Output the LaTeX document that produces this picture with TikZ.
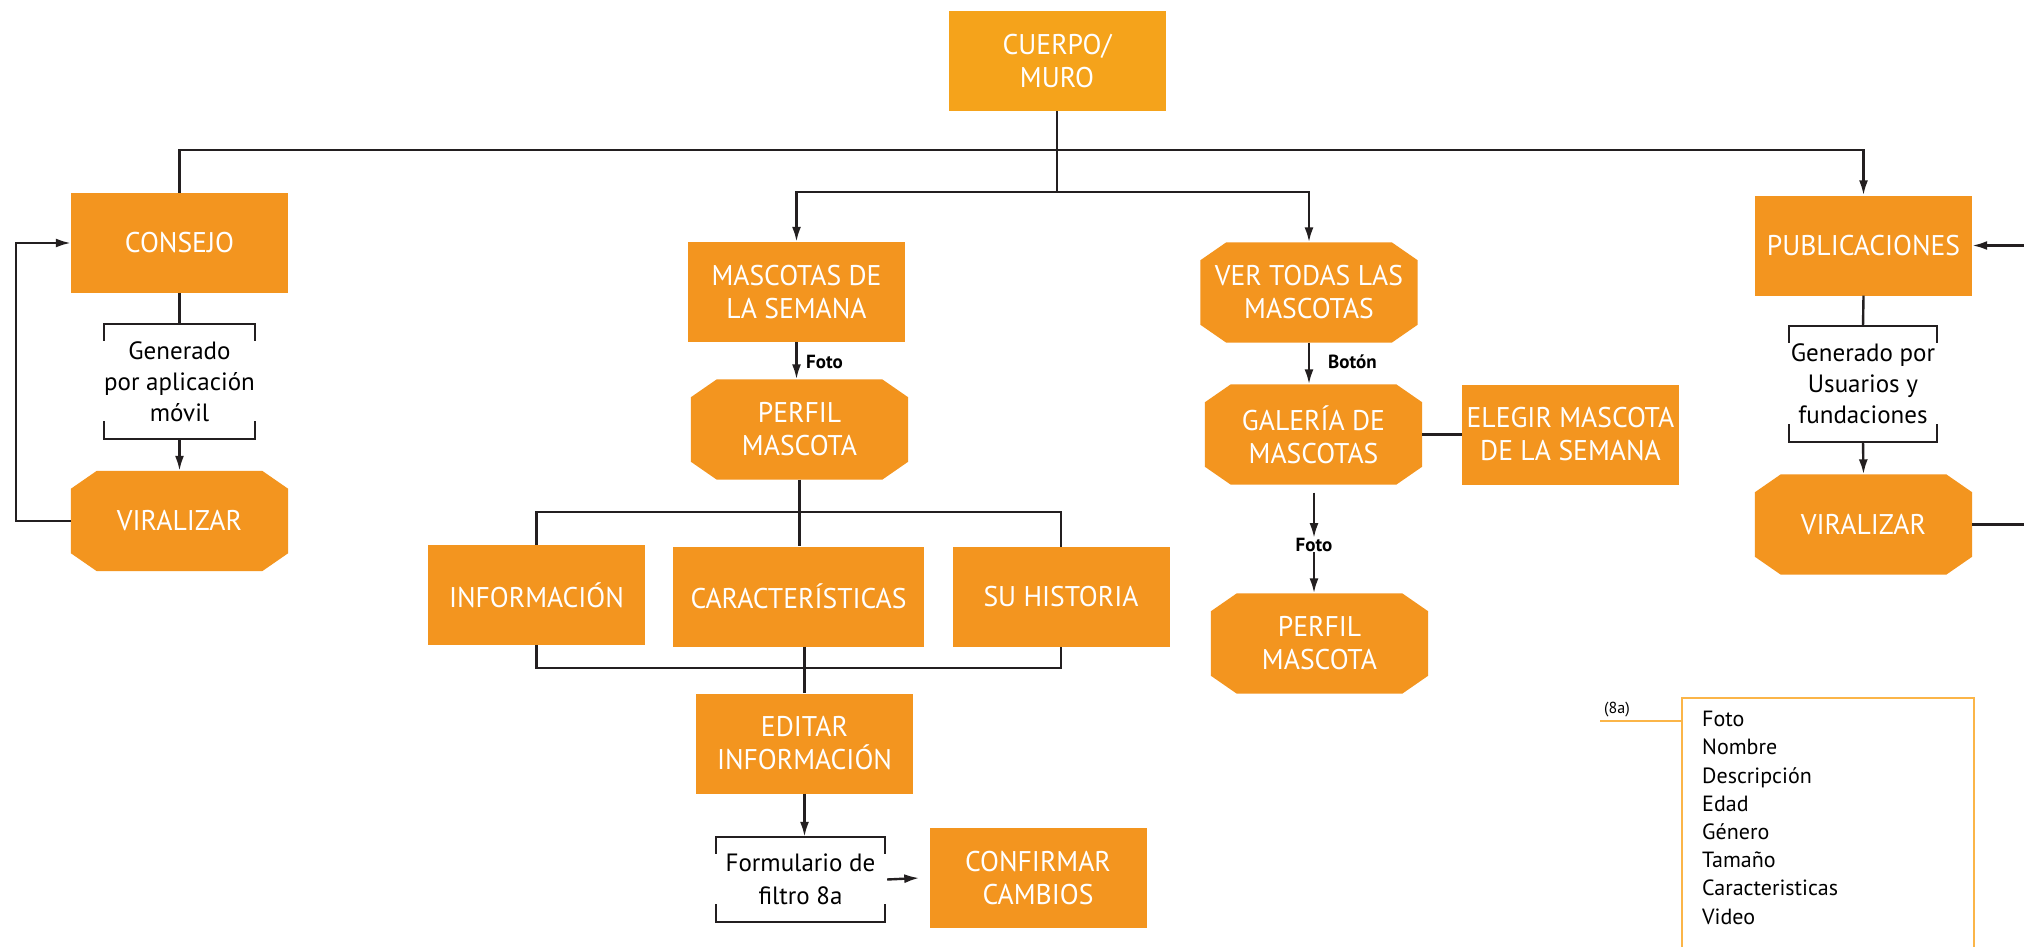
\documentclass[tikz,border=0pt]{standalone}
\usepackage{fontspec}
\setmainfont{PT Sans}
\newfontfamily\condfont{PT Sans}[FakeStretch=0.97]
\usetikzlibrary{arrows.meta,backgrounds}

\definecolor{boxorange}{HTML}{F3951F}
\definecolor{toporange}{HTML}{F5A31B}
\definecolor{frameorange}{HTML}{FBB548}
\definecolor{linegray}{HTML}{231F20}

\tikzset{
  box/.style={rectangle, fill=boxorange, text=white, minimum width=217pt,
    minimum height=100pt, inner sep=0pt, align=center,
    font=\condfont\fontsize{28.5}{33}\selectfont},
  octo/.style={box, fill=none},
  note/.style={rectangle, inner sep=0pt, align=center, text=black,
    font=\fontsize{25}{31}\selectfont},
  conn/.style={draw=linegray, line width=2.4pt},
  arr/.style={conn, -{Latex[length=15pt,width=9pt]}},
  tag/.style={inner sep=0pt, font=\bfseries\fontsize{19}{22}\selectfont},
}

% octagon fill behind a node of style octo
\newcommand\octfill[1]{%
  \fill[boxorange] ([xshift=26pt]#1.north west) -- ([xshift=-26pt]#1.north east)
    -- ([yshift=-18pt]#1.north east) -- ([yshift=18pt]#1.south east)
    -- ([xshift=-26pt]#1.south east) -- ([xshift=26pt]#1.south west)
    -- ([yshift=18pt]#1.south west) -- ([yshift=-18pt]#1.north west) -- cycle;}

% open bracket marks above and below a note
\newcommand\bracketmark[1]{%
  \draw[conn] ([yshift=-17pt]#1.north west) -- (#1.north west)
    -- (#1.north east) -- ([yshift=-17pt]#1.north east);
  \draw[conn] ([yshift=18pt]#1.south west) -- (#1.south west)
    -- (#1.south east) -- ([yshift=18pt]#1.south east);}

\begin{document}
\begin{tikzpicture}[x=1pt, y=-1pt]
\useasboundingbox (0,0) rectangle (2024,947);
\clip (0,0) rectangle (2024,947);

% main boxes
\node[box, fill=toporange] (cuerpo) at (1057,61) {CUERPO/\\MURO};
\node[box] (consejo) at (179.5,243) {CONSEJO};
\node[octo] (viral1) at (179.5,521) {VIRALIZAR};
\node[box] (masc) at (796.5,292) {MASCOTAS DE\\LA SEMANA};
\node[octo] (perfil1) at (799.5,429.5) {PERFIL\\MASCOTA};
\node[octo] (vertodas) at (1309,292.5) {VER TODAS LAS\\MASCOTAS};
\node[octo] (galeria) at (1313.5,434.5) {GALERÍA DE\\MASCOTAS};
\node[box] (elegir) at (1570.5,434.5) {ELEGIR MASCOTA\\DE LA SEMANA};
\node[octo] (perfil2) at (1319.5,643.5) {PERFIL\\MASCOTA};
\node[box] (public) at (1863.5,245.5) {PUBLICACIONES};
\node[octo] (viral2) at (1863.5,524.5) {VIRALIZAR};
\node[box] (info) at (536.5,595) {INFORMACIÓN};
\node[box, minimum width=251pt] (carac) at (798.5,596.5) {CARACTERÍSTICAS};
\node[box] (hist) at (1061,597) {SU HISTORIA};
\node[box] (editar) at (804.5,743.5) {EDITAR\\INFORMACIÓN};
\node[box] (confirmar) at (1038,878) {CONFIRMAR\\CAMBIOS};

% bracketed notes
\node[note, minimum width=147pt, minimum height=115pt] (cnote) at (179.5,381.5)
  {Generado\\por aplicación\\móvil};
\node[note, minimum width=148pt, minimum height=116pt] (pnote) at (1863,384)
  {Generado por\\Usuarios y\\fundaciones};
\node[note, minimum width=169pt, minimum height=85pt, font=\fontsize{25}{33}\selectfont]
  (fnote) at (800.5,879.5) {Formulario de\\filtro 8a};
\bracketmark{cnote}
\bracketmark{pnote}
\bracketmark{fnote}

% small labels on arrows
\node[tag, anchor=west] (foto1) at (806,362) {Foto};
\node[tag, anchor=west] (boton) at (1328,362) {Botón};
\node[tag] (foto2) at (1314,545) {Foto};

% connectors
\coordinate (hub) at (1057,192);
\draw[conn] (cuerpo.south) -- (hub);
\draw[arr] (hub) -| (masc.north);
\draw[arr] (hub) -| (vertodas.north);
\draw[arr] (consejo.north) -- ++(0,-43) -| (public.north);

\draw[conn] (consejo.south) -- (cnote.north);
\draw[arr] (cnote.south) -- (viral1.north);
\draw[arr] (viral1.west) -- ++(-55,0) |- (consejo.west);

\draw[arr] (masc.south) -- (masc.south |- perfil1.north);
\draw[conn] (perfil1.south) -- (perfil1.south |- carac.north);
\draw[conn] (info.north) -- ++(0,-33) -| (hist.north);
\draw[conn] (info.south) -- ++(0,23) -| (hist.south);
\draw[conn] (editar.north |- carac.south) -- (editar.north);
\draw[arr] (editar.south) -- (editar.south |- fnote.north);
\draw[arr] ([xshift=2pt]fnote.east) -- ([xshift=-10pt]confirmar.west);

\draw[arr] (vertodas.south) -- (vertodas.south |- galeria.north);
\draw[conn] (galeria.east) -- (elegir.west);
\path (foto2.north |- galeria.south) coordinate (galfoot);
\draw[arr] ([yshift=-8pt]galfoot) -- (foto2.north);
\draw[arr] (foto2.south) -- (foto2.south |- perfil2.north);

\draw[conn] (public.south) -- (pnote.north);
\draw[arr] (pnote.south) -- (viral2.north);
\draw[arr] (viral2.east) -- ++(60,0) |- (public.east);

% field list of form 8a
\node[draw=frameorange, line width=2.4pt, minimum width=292pt, minimum height=300pt,
  anchor=north west, inner sep=0pt] (fieldbox) at (1681,697) {};
\node[anchor=north west, align=left, inner sep=0pt,
  font=\fontsize{22}{28.2}\selectfont] (fields) at (1702,711)
  {Foto\\Nombre\\Descripción\\Edad\\Género\\Tamaño\\Caracteristicas\\Video};
\coordinate (tagstart) at (1600,721);
\draw[draw=frameorange, line width=2.4pt] (tagstart) -- (tagstart -| fieldbox.west);
\node[anchor=south west, inner sep=0pt, font=\fontsize{16}{18}\selectfont] (tag8a)
  at (1604,717) {(8a)};

% background: page and octagon fills
\begin{scope}[on background layer]
  \fill[white] (0,0) rectangle (2024,947);
  \octfill{viral1}
  \octfill{perfil1}
  \octfill{vertodas}
  \octfill{galeria}
  \octfill{perfil2}
  \octfill{viral2}
\end{scope}
\end{tikzpicture}
\end{document}
